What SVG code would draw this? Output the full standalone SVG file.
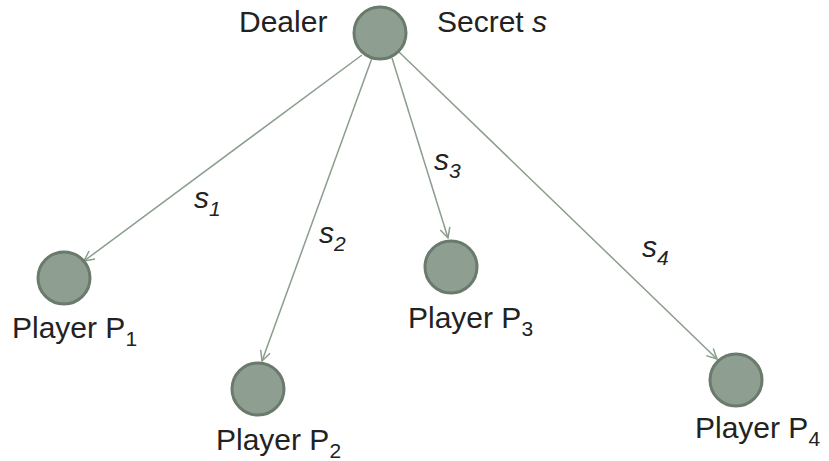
<svg xmlns="http://www.w3.org/2000/svg" width="829" height="461" viewBox="0 0 829 461">
<style>
.node{fill:#8e9f91;stroke:#6a7a6c;stroke-width:3}
.lbl{font-family:"Liberation Sans",Arial,sans-serif;font-size:30px;fill:#222}
.it{font-style:italic}
.sub{font-size:21px}
.edge{stroke:#8a9e8c;stroke-width:1.5;fill:none;marker-end:url(#arr)}
</style>
<defs>
<marker id="arr" viewBox="0 0 12 12" refX="11" refY="6" markerWidth="12" markerHeight="12" markerUnits="userSpaceOnUse" orient="auto">
<path d="M1,1 L11,6 L1,11" fill="none" stroke="#8a9e8c" stroke-width="1.5"/>
</marker>
</defs>
<rect width="829" height="461" fill="#fff"/>
<g id="connectors">
<line class="edge" x1="362" y1="55" x2="84" y2="261"/>
<line class="edge" x1="372" y1="58" x2="262" y2="361"/>
<line class="edge" x1="392" y1="58" x2="448" y2="238"/>
<line class="edge" x1="399" y1="52" x2="717" y2="359"/>
<text class="lbl it" x="194" y="208">s<tspan class="sub" dy="8">1</tspan></text>
<text class="lbl it" x="319" y="243">s<tspan class="sub" dy="8">2</tspan></text>
<text class="lbl it" x="434" y="170">s<tspan class="sub" dy="8">3</tspan></text>
<text class="lbl it" x="642" y="257">s<tspan class="sub" dy="8">4</tspan></text>
</g>
<g id="dealer">
<circle class="node" cx="380" cy="33" r="26"/>
<text class="lbl" x="239" y="32">Dealer</text>
<text class="lbl" x="437" y="32">Secret <tspan class="it">s</tspan></text>
</g>
<g id="p1">
<circle class="node" cx="64" cy="278" r="26"/>
<text class="lbl" x="12" y="338">Player P<tspan class="sub" dy="8">1</tspan></text>
</g>
<g id="p2">
<circle class="node" cx="258" cy="389" r="26"/>
<text class="lbl" x="216" y="450">Player P<tspan class="sub" dy="8">2</tspan></text>
</g>
<g id="p3">
<circle class="node" cx="451" cy="267" r="26"/>
<text class="lbl" x="408" y="328">Player P<tspan class="sub" dy="8">3</tspan></text>
</g>
<g id="p4">
<circle class="node" cx="736" cy="380" r="26"/>
<text class="lbl" x="695" y="438">Player P<tspan class="sub" dy="8">4</tspan></text>
</g>
</svg>
